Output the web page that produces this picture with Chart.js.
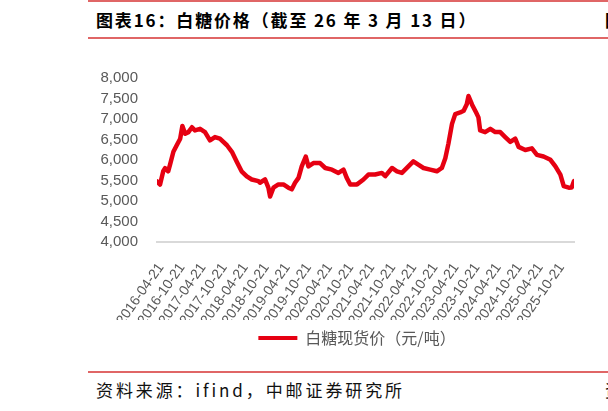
<!DOCTYPE html>
<html>
<head>
<meta charset="utf-8">
<script src="https://cdn.jsdelivr.net/npm/chart.js@4/dist/chart.umd.min.js"></script>
<style>
html,body{margin:0;padding:0;width:608px;height:411px;overflow:hidden;background:#fff;position:relative;}
.rule{position:absolute;left:88px;width:520px;height:2px;background:#E06666;}
#title{position:absolute;left:96px;top:8px;font-family:"Noto Sans CJK SC";font-weight:700;font-size:17px;letter-spacing:1.85px;color:#000;white-space:nowrap;line-height:24px;}
#source{position:absolute;left:96px;top:378px;font-family:"Noto Sans CJK SC";font-weight:400;font-size:17px;letter-spacing:2.9px;color:#111;white-space:nowrap;line-height:24px;}
.cut{position:absolute;left:605px;font-family:"Noto Sans CJK SC";font-size:17px;color:#000;line-height:24px;}
#wrap{position:absolute;left:96px;top:50px;width:515px;height:315px;}
</style>
</head>
<body>
<div class="rule" style="top:0px;"></div>
<div id="title">图表16：白糖价格（截至 26 年 3 月 13 日）</div>
<div class="cut" style="top:8px;font-weight:700;">图</div>
<div class="rule" style="top:37px;"></div>
<div id="wrap"><canvas id="c"></canvas></div>
<div class="rule" style="top:371px;"></div>
<div id="source">资料来源：ifind，中邮证券研究所</div>
<div class="cut" style="top:378px;">资</div>
<script>
const seriesName = '白糖现货价（元/吨）';
const startDate = '2016-04-21';
const endDate = '2026-03-13';
const tickDates = ['2016-04-21','2016-10-21','2017-04-21','2017-10-21','2018-04-21','2018-10-21','2019-04-21','2019-10-21','2020-04-21','2020-10-21','2021-04-21','2021-10-21','2022-04-21','2022-10-21','2023-04-21','2023-10-21','2024-04-21','2024-10-21','2025-04-21','2025-10-21'];
const dates = ['2016-04-21','2016-05-17','2016-06-14','2016-06-30','2016-07-27','2016-08-12','2016-09-10','2016-10-09','2016-11-08','2016-11-27','2016-12-21','2017-01-18','2017-02-18','2017-03-16','2017-04-29','2017-06-11','2017-07-24','2017-09-05','2017-10-18','2017-12-18','2018-01-30','2018-03-13','2018-04-24','2018-06-08','2018-07-21','2018-09-17','2018-09-30','2018-11-13','2018-12-12','2018-12-27','2019-01-25','2019-03-09','2019-04-21','2019-06-03','2019-07-03','2019-07-31','2019-08-30','2019-09-27','2019-11-01','2019-11-24','2020-01-06','2020-03-04','2020-04-18','2020-06-15','2020-08-10','2020-09-23','2020-10-21','2020-11-20','2021-01-18','2021-03-15','2021-04-27','2021-06-24','2021-08-21','2021-09-20','2021-11-17','2021-12-30','2022-02-11','2022-04-08','2022-05-21','2022-07-03','2022-08-17','2022-10-14','2022-12-11','2023-01-23','2023-02-22','2023-03-21','2023-04-21','2023-05-19','2023-07-01','2023-07-31','2023-08-27','2023-09-11','2023-10-12','2023-11-17','2023-12-06','2023-12-21','2024-02-02','2024-03-18','2024-04-30','2024-06-12','2024-07-25','2024-09-07','2024-10-20','2024-11-18','2025-01-15','2025-03-13','2025-04-26','2025-06-22','2025-08-21','2025-10-03','2025-11-15','2025-12-14','2026-01-27','2026-02-21','2026-03-13'];
const prices = [5480,5400,5725,5800,5725,5885,6200,6360,6520,6830,6640,6680,6800,6720,6760,6680,6480,6560,6520,6360,6200,5960,5725,5600,5525,5485,5445,5525,5325,5110,5325,5405,5405,5325,5285,5445,5565,5845,6085,5845,5925,5925,5805,5765,5685,5765,5565,5405,5405,5525,5645,5645,5685,5605,5805,5725,5685,5845,5965,5885,5805,5765,5725,5805,6045,6400,6880,7120,7160,7200,7360,7560,7350,7150,7040,6720,6680,6760,6680,6680,6560,6440,6520,6320,6245,6285,6125,6085,6005,5845,5645,5365,5325,5330,5485];
const yMin = 4000, yMax = 8000, yStep = 500;

const dayOf = s => { const [y,m,d] = s.split('-').map(Number); return Math.round((Date.UTC(y,m-1,d) - Date.UTC(2016,3,21)) / 86400000); };
const tickValues = tickDates.map(dayOf);
const tickLabelByValue = {};
tickDates.forEach(d => { tickLabelByValue[dayOf(d)] = d; });
const points = dates.map((d,i) => ({x: dayOf(d), y: prices[i]}));

const gray = '#595959';
const legendShift = { id: 'legendShift', afterLayout(chart) { const l = chart.legend; if (l) { l.left += 22; l.right += 22; } } };

new Chart(document.getElementById('c'), {
  type: 'line',
  data: { datasets: [{ label: seriesName, data: points, borderColor: '#E60012', backgroundColor: '#E60012', borderWidth: 4.5, pointRadius: 0, tension: 0, borderJoinStyle: 'round', borderCapStyle: 'round' }] },
  plugins: [legendShift],
  options: {
    responsive: true, maintainAspectRatio: false, animation: false,
    layout: { padding: { top: 25, right: 37, bottom: 9, left: 0 } },
    plugins: {
      tooltip: { enabled: false },
      legend: { position: 'bottom', labels: { boxWidth: 39, boxHeight: 4, color: gray, padding: 10, font: { family: '"Noto Sans CJK SC", "Liberation Sans"', size: 16 },
        generateLabels: chart => Chart.defaults.plugins.legend.labels.generateLabels(chart).map(it => Object.assign(it, { lineWidth: 0, fillStyle: '#E60012', strokeStyle: '#E60012' })) } }
    },
    scales: {
      x: {
        type: 'linear', min: dayOf(startDate), max: dayOf(endDate),
        afterBuildTicks: s => { s.ticks = tickValues.map(v => ({ value: v })); },
        afterFit: s => { s.height = 78; s.paddingLeft = 0; s.paddingRight = 0; },
        grid: { display: false, drawTicks: false },
        border: { display: true, color: '#d9d9d9', width: 2 },
        ticks: { autoSkip: false, minRotation: 55, maxRotation: 55, padding: 18, labelOffset: 4, color: gray, font: { family: '"Liberation Sans"', size: 14 }, callback: v => tickLabelByValue[v] || '' }
      },
      y: {
        min: yMin, max: yMax,
        afterFit: s => { s.width = 61; },
        grid: { display: false, drawTicks: false },
        border: { display: false },
        ticks: { stepSize: yStep, autoSkip: false, padding: 19, color: gray, font: { family: '"Liberation Sans"', size: 15 }, callback: v => v.toLocaleString('en-US') }
      }
    }
  }
});
</script>
</body>
</html>
